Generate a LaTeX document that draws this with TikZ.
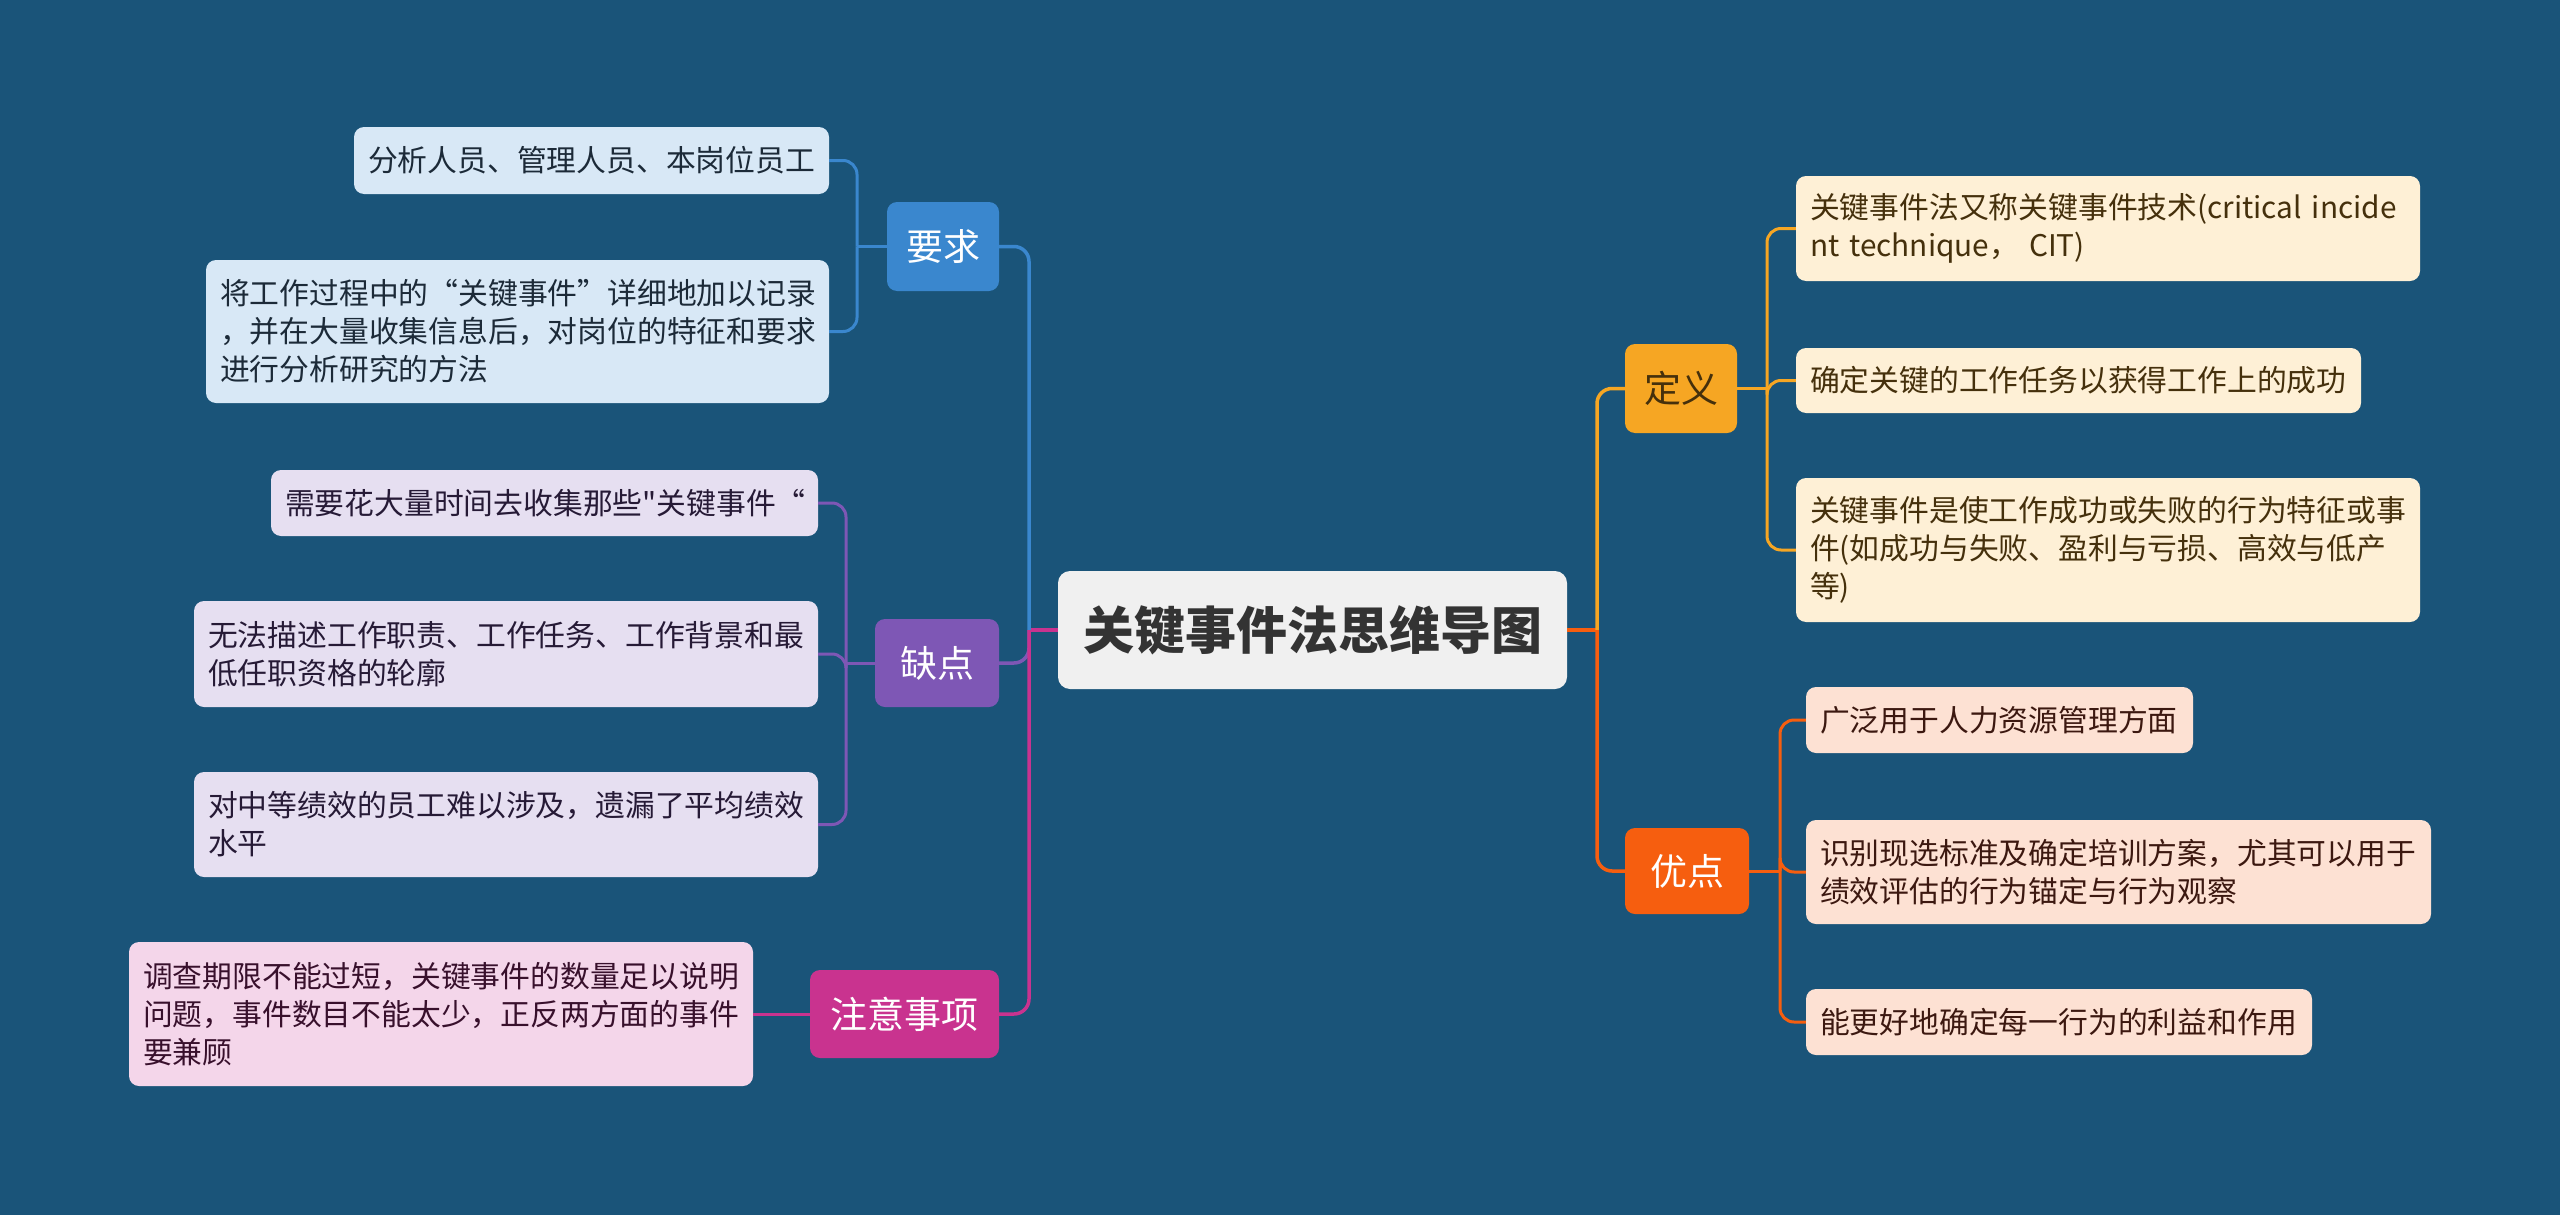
\documentclass[tikz,border=0pt]{standalone}
\usepackage{fontspec}
\newfontfamily\cjk{Noto Sans CJK SC}
\definecolor{bg}{HTML}{1A5479}
\definecolor{cbox}{HTML}{F0F0F0}
\definecolor{ctext}{HTML}{333333}
\definecolor{blueM}{HTML}{3A87CE}
\definecolor{blueL}{HTML}{D8E8F6}
\definecolor{blueT}{HTML}{1C2A38}
\definecolor{purM}{HTML}{7E57B5}
\definecolor{purL}{HTML}{E6DFF1}
\definecolor{purT}{HTML}{261A36}
\definecolor{magM}{HTML}{C9338F}
\definecolor{magL}{HTML}{F4D6EA}
\definecolor{magT}{HTML}{38102C}
\definecolor{yelM}{HTML}{F6A623}
\definecolor{yelL}{HTML}{FEF0D6}
\definecolor{yelT}{HTML}{45300C}
\definecolor{oraM}{HTML}{F65E0F}
\definecolor{oraL}{HTML}{FDE1D3}
\definecolor{oraT}{HTML}{3C1810}
\begin{document}
\begin{tikzpicture}[x=1pt,y=-1pt,
  leaf/.style={rounded corners=10pt, inner xsep=14pt, inner ysep=4pt, align=left,
    font=\cjk\fontsize{29.8}{38}\selectfont},
  mainn/.style={rounded corners=10pt, inner sep=0pt, align=center,
    font=\cjk\fontsize{37}{44}\selectfont},
  conn/.style={line width=3.5pt, rounded corners=15pt},
  lconn/.style={line width=3pt, rounded corners=14pt},
]
\useasboundingbox (0,0) rectangle (2560,1215);
\fill[bg] (0,0) rectangle (2560,1215);

% spine coordinates
\coordinate (sl) at (1029,630);
\coordinate (sr) at (1597,630);
\coordinate (syq) at (857,246.5);
\coordinate (sqd) at (846,663);
\coordinate (sdy) at (1767,388.5);
\coordinate (syd) at (1780,871);

% central
\node[fill=cbox, text=ctext, rounded corners=12pt, minimum width=509pt, minimum height=118pt,
  inner sep=0pt, font=\cjk\bfseries\fontsize{51}{60}\selectfont] (c) at (1312.5,630) {关键事件法思维导图};

% main branches
\node[mainn, fill=blueM, text=white, minimum width=112pt, minimum height=89pt] (yq) at (943,246.5) {要求};
\node[mainn, fill=purM, text=white, minimum width=124pt, minimum height=88pt] (qd) at (937,663) {缺点};
\node[mainn, fill=magM, text=white, minimum width=189pt, minimum height=88pt] (zy) at (904.5,1014) {注意事项};
\node[mainn, fill=yelM, text=yelT, minimum width=112pt, minimum height=89pt] (dy) at (1681,388.5) {定义};
\node[mainn, fill=oraM, text=white, minimum width=124pt, minimum height=86pt] (yd) at (1687,871) {优点};

% leaves left
\node[leaf, fill=blueL, text=blueT, text width=447pt, minimum height=67pt] (l1) at (591.5,160.5) {分析人员、管理人员、本岗位员工};
\node[leaf, fill=blueL, text=blueT, text width=595pt, minimum height=143pt] (l2) at (517.5,331.5) {将工作过程中的“关键事件”详细地加以记录\\，并在大量收集信息后，对岗位的特征和要求\\进行分析研究的方法};
\node[leaf, fill=purL, text=purT, text width=519pt, minimum height=66pt] (d1) at (544.5,503) {需要花大量时间去收集那些"关键事件“};
\node[leaf, fill=purL, text=purT, text width=596pt, minimum height=106pt] (d2) at (506,654) {无法描述工作职责、工作任务、工作背景和最\\低任职资格的轮廓};
\node[leaf, fill=purL, text=purT, text width=596pt, minimum height=105pt] (d3) at (506,824.5) {对中等绩效的员工难以涉及，遗漏了平均绩效\\水平};
\node[leaf, fill=magL, text=magT, text width=596pt, minimum height=144pt] (n1) at (441,1014) {调查期限不能过短，关键事件的数量足以说明\\问题，事件数目不能太少，正反两方面的事件\\要兼顾};

% leaves right
\node[leaf, fill=yelL, text=yelT, text width=596pt, minimum height=105pt] (r1) at (2108,228.5) {关键事件法又称关键事件技术(critical incide\\nt technique， CIT)};
\node[leaf, fill=yelL, text=yelT, text width=537pt, minimum height=65pt] (r2) at (2078.5,380.5) {确定关键的工作任务以获得工作上的成功};
\node[leaf, fill=yelL, text=yelT, text width=596pt, minimum height=144pt] (r3) at (2108,550) {关键事件是使工作成功或失败的行为特征或事\\件(如成功与失败、盈利与亏损、高效与低产\\等)};
\node[leaf, fill=oraL, text=oraT, text width=359pt, minimum height=66pt] (y1) at (1999.5,720) {广泛用于人力资源管理方面};
\node[leaf, fill=oraL, text=oraT, text width=597pt, minimum height=104pt] (y2) at (2118.5,872) {识别现选标准及确定培训方案，尤其可以用于\\绩效评估的行为锚定与行为观察};
\node[leaf, fill=oraL, text=oraT, text width=478pt, minimum height=66pt] (y3) at (2059,1022) {能更好地确定每一行为的利益和作用};

% center connectors
\draw[conn, magM] (c.west) -- (sl);
\draw[conn, oraM] (c.east) -- (sr);
\draw[conn, blueM] (sl) |- (yq.east);
\draw[conn, purM] (sl) |- (qd.east);
\draw[conn, magM] (sl) |- (zy.east);
\draw[conn, yelM] (sr) |- (dy.west);
\draw[conn, oraM] (sr) |- (yd.west);

% leaf connectors
\draw[lconn, blueM] (yq.west) -- (syq);
\draw[lconn, blueM] (syq) |- (l1.east);
\draw[lconn, blueM] (syq) |- (l2.east);
\draw[lconn, purM] (qd.west) -- (sqd);
\draw[lconn, purM] (sqd) |- (d1.east);
\draw[lconn, purM] (sqd) |- (d2.east);
\draw[lconn, purM] (sqd) |- (d3.east);
\draw[lconn, magM] (zy.west) -- (n1.east);
\draw[lconn, yelM] (dy.east) -- (sdy);
\draw[lconn, yelM] (sdy) |- (r1.west);
\draw[lconn, yelM] (sdy) |- (r2.west);
\draw[lconn, yelM] (sdy) |- (r3.west);
\draw[lconn, oraM] (yd.east) -- (syd);
\draw[lconn, oraM] (syd) |- (y1.west);
\draw[lconn, oraM] (syd) |- (y2.west);
\draw[lconn, oraM] (syd) |- (y3.west);
\end{tikzpicture}
\end{document}
